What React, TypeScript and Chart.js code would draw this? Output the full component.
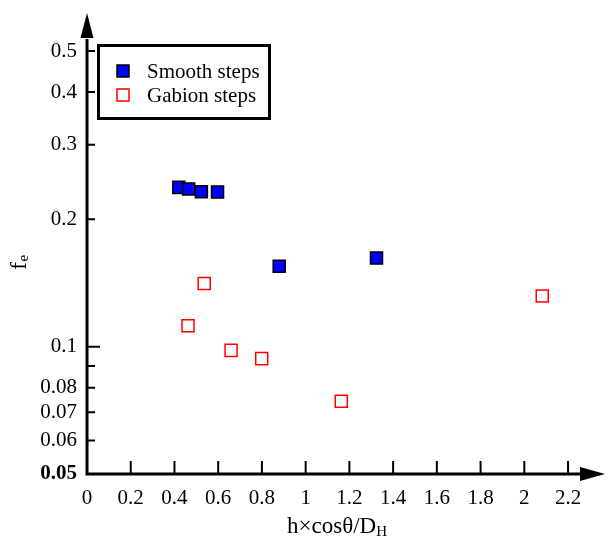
import React, { useEffect, useRef } from "react";
import { Chart, registerables } from "chart.js";

Chart.register(...registerables);

// ---- data ----
const SMOOTH_X = [0.42, 0.465, 0.523, 0.597, 0.879, 1.324];
const SMOOTH_Y = [0.238, 0.236, 0.2325, 0.232, 0.155, 0.162];
const GABION_X = [0.462, 0.536, 0.659, 0.799, 1.163, 2.082];
const GABION_Y = [0.112, 0.141, 0.098, 0.0937, 0.0743, 0.1318];

const SERIES_LABELS = ["Smooth steps", "Gabion steps"];

const X_TICKS = [0, 0.2, 0.4, 0.6, 0.8, 1, 1.2, 1.4, 1.6, 1.8, 2, 2.2];
const X_TICK_LABELS = ["0", "0.2", "0.4", "0.6", "0.8", "1", "1.2", "1.4", "1.6", "1.8", "2", "2.2"];
const Y_TICKS = [0.05, 0.06, 0.07, 0.08, 0.09, 0.1, 0.2, 0.3, 0.4, 0.5];
const Y_TICK_LABELS = ["0.05", "0.06", "0.07", "0.08", "", "0.1", "0.2", "0.3", "0.4", "0.5"];
const Y_MAJOR = [0.1];

const X_MIN = 0;
const X_MAX = 2.337;
const Y_MIN = 0.05;
const Y_MAX = 0.576;

const FONT = "'Liberation Serif', 'Times New Roman', serif";

const decorPlugin = {
  id: "decor",
  afterDraw(chart: any) {
    const { ctx, chartArea, scales } = chart;
    const { left, right, top, bottom } = chartArea;
    const xs = scales.x;
    const ys = scales.y;
    ctx.save();
    ctx.strokeStyle = "#000";
    ctx.fillStyle = "#000";

    // ticks (inside)
    ctx.lineWidth = 2;
    ctx.beginPath();
    X_TICKS.forEach((v) => {
      if (v === 0) return;
      const px = xs.getPixelForValue(v);
      ctx.moveTo(px, bottom);
      ctx.lineTo(px, bottom - 13);
    });
    Y_TICKS.forEach((v) => {
      const py = ys.getPixelForValue(v);
      ctx.moveTo(left, py);
      ctx.lineTo(left + (Y_MAJOR.includes(v) ? 13 : 8), py);
    });
    ctx.stroke();

    // axes lines
    ctx.lineWidth = 3;
    ctx.beginPath();
    ctx.moveTo(left, bottom + 1.5);
    ctx.lineTo(left, top + 14);
    ctx.moveTo(left - 1.5, bottom);
    ctx.lineTo(right - 16, bottom);
    ctx.stroke();
    // arrows
    ctx.beginPath();
    ctx.moveTo(left, top - 12);
    ctx.lineTo(left - 6.5, top + 13);
    ctx.lineTo(left + 6.5, top + 13);
    ctx.closePath();
    ctx.fill();
    ctx.beginPath();
    ctx.moveTo(right + 7, bottom);
    ctx.lineTo(right - 18, bottom - 7);
    ctx.lineTo(right - 18, bottom + 7);
    ctx.closePath();
    ctx.fill();

    // legend
    ctx.lineWidth = 3;
    ctx.strokeRect(98.5, 45.5, 171, 73);
    const ds = chart.data.datasets;
    const rows = [71, 95];
    ds.forEach((d: any, i: number) => {
      const cy = rows[i];
      const s = 12;
      ctx.lineWidth = 1.5;
      if (d.backgroundColor && d.backgroundColor !== "transparent") {
        ctx.fillStyle = d.backgroundColor;
        ctx.fillRect(123 - s / 2, cy - s / 2, s, s);
      }
      ctx.strokeStyle = d.borderColor;
      ctx.strokeRect(123 - s / 2, cy - s / 2, s, s);
      ctx.fillStyle = "#000";
      ctx.font = `21px ${FONT}`;
      ctx.textAlign = "left";
      ctx.textBaseline = "alphabetic";
      ctx.fillText(d.label, 147, cy + 6.5);
    });

    // y title: f_e (rotated)
    ctx.save();
    ctx.translate(26, 270);
    ctx.rotate(-Math.PI / 2);
    ctx.fillStyle = "#000";
    ctx.textAlign = "left";
    ctx.textBaseline = "alphabetic";
    ctx.font = `24px ${FONT}`;
    ctx.fillText("f", 0, 0);
    const wf = ctx.measureText("f").width;
    ctx.font = `15px ${FONT}`;
    ctx.fillText("e", wf + 0.5, 1.5);
    ctx.restore();

    // x title: h×cosθ/D_H
    ctx.fillStyle = "#000";
    ctx.textAlign = "left";
    ctx.textBaseline = "alphabetic";
    ctx.font = `23px ${FONT}`;
    const main = "h×cosθ/D";
    const wm = ctx.measureText(main).width;
    const x0 = 287;
    ctx.fillText(main, x0, 533);
    ctx.font = `15px ${FONT}`;
    ctx.fillText("H", x0 + wm, 536);

    ctx.restore();
  },
};

export default function App() {
  const canvasRef = useRef<HTMLCanvasElement | null>(null);

  useEffect(() => {
    const canvas = canvasRef.current;
    if (!canvas) return;
    const chart = new Chart(canvas, {
      type: "scatter",
      data: {
        datasets: [
          {
            label: SERIES_LABELS[0],
            data: SMOOTH_X.map((x, i) => ({ x, y: SMOOTH_Y[i] })),
            pointStyle: "rect",
            pointRadius: 8.5,
            pointHoverRadius: 8.5,
            backgroundColor: "#0000ff",
            borderColor: "#000000",
            borderWidth: 1.5,
          },
          {
            label: SERIES_LABELS[1],
            data: GABION_X.map((x, i) => ({ x, y: GABION_Y[i] })),
            pointStyle: "rect",
            pointRadius: 8.5,
            pointHoverRadius: 8.5,
            backgroundColor: "transparent",
            borderColor: "#ff0000",
            borderWidth: 1.5,
          },
        ],
      },
      options: {
        animation: false,
        responsive: false,
        events: [],
        layout: { padding: { left: 0, right: 8, top: 25, bottom: 0 } },
        plugins: {
          legend: { display: false },
          tooltip: { enabled: false },
        },
        scales: {
          x: {
            type: "linear",
            min: X_MIN,
            max: X_MAX,
            grid: { display: false, drawTicks: false },
            border: { display: false },
            afterBuildTicks: (scale: any) => {
              scale.ticks = X_TICKS.map((v) => ({ value: v }));
            },
            afterFit: (scale: any) => {
              scale.height = 62;
            },
            ticks: {
              padding: 12,
              color: "#000",
              font: { family: FONT, size: 21 },
              maxRotation: 0,
              autoSkip: false,
              callback: (_v: any, i: number) => X_TICK_LABELS[i],
            },
          },
          y: {
            type: "logarithmic",
            min: Y_MIN,
            max: Y_MAX,
            grid: { display: false, drawTicks: false },
            border: { display: false },
            afterBuildTicks: (scale: any) => {
              scale.ticks = Y_TICKS.map((v) => ({ value: v }));
            },
            afterFit: (scale: any) => {
              scale.width = 87;
            },
            ticks: {
              padding: 10,
              color: "#000",
              autoSkip: false,
              font: (c: any) => ({
                family: FONT,
                size: 21,
                weight: c.index === 0 ? "bold" : "normal",
              }),
              callback: (_v: any, i: number) => Y_TICK_LABELS[i],
            },
          },
        },
      },
      plugins: [decorPlugin],
    });
    return () => chart.destroy();
  }, []);

  return (
    <div style={{ position: "absolute", left: 0, top: 0, width: 608, height: 536, background: "#fff" }}>
      <canvas ref={canvasRef} width={608} height={536} style={{ width: 608, height: 536, display: "block" }} />
    </div>
  );
}
